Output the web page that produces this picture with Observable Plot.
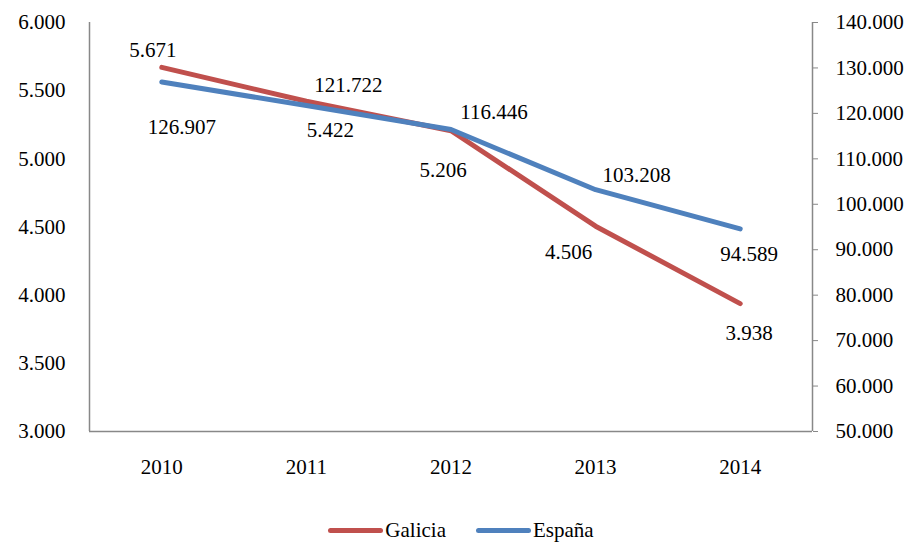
<!DOCTYPE html>
<html>
<head>
<meta charset="utf-8">
<script src="https://cdn.jsdelivr.net/npm/d3@7"></script>
<script src="https://cdn.jsdelivr.net/npm/@observablehq/plot@0.6"></script>
<style>
  body { margin: 0; background: #fff; font-family: 'Liberation Serif', Tinos, 'Times New Roman', Times, 'DejaVu Serif', serif; }
  #chart svg, #chart svg text { font-family: 'Liberation Serif', Tinos, 'Times New Roman', Times, 'DejaVu Serif', serif !important; }
  #chart { width: 916px; }
  .legend { display: flex; justify-content: center; align-items: center; gap: 30px; font-size: 21px; color: #000; padding-top: 18px; margin-left: 6px; }
  .legend span.item { display: inline-flex; align-items: center; }
  .legend span.sw { display: inline-block; width: 55px; height: 5px; border-radius: 3px; margin-right: 2px; }
</style>
</head>
<body>
<div id="chart"></div>
<script>
// ---- data ----
const years = [2010, 2011, 2012, 2013, 2014];
const galicia = [5671, 5422, 5206, 4506, 3938];
const espana = [126907, 121722, 116446, 103208, 94589];
const leftTicks = [3000, 3500, 4000, 4500, 5000, 5500, 6000];
const rightTicks = [50000, 60000, 70000, 80000, 90000, 100000, 110000, 120000, 130000, 140000];
const seriesNames = ["Galicia", "España"];
const colors = ["#C0504D", "#4F81BD"];

const fmt = d3.formatLocale({decimal: ",", thousands: ".", grouping: [3], currency: ["", "€"]}).format(",d");

// map right axis (España) onto left scale domain
const toLeft = d3.scaleLinear().domain([50000, 140000]).range([3000, 6000]);

const gData = years.map((y, i) => ({year: y, v: galicia[i]}));
const eData = years.map((y, i) => ({year: y, v: toLeft(espana[i]), raw: espana[i]}));

// label placement (pixel offsets)
const gOff = [[-9, -17], [24, 29], [-8, 40], [-27, 26], [9, 30]];
const eOff = [[20, 45], [42, -20], [43, -17], [41, -14], [9, 25]];

const font = "'Liberation Serif', Tinos, 'Times New Roman', Times, 'DejaVu Serif', serif";
const axisColor = "#888";

const labelMarks = [];
gData.forEach((d, i) => labelMarks.push(Plot.text([d], {x: "year", y: "v", text: d => fmt(d.v), dx: gOff[i][0], dy: gOff[i][1], fontSize: 21, fill: "#000", fontFamily: font})));
eData.forEach((d, i) => labelMarks.push(Plot.text([d], {x: "year", y: "v", text: d => fmt(d.raw), dx: eOff[i][0], dy: eOff[i][1], fontSize: 21, fill: "#000", fontFamily: font})));

const chart = Plot.plot({
  width: 916,
  height: 500,
  marginLeft: 89,
  marginRight: 104,
  marginTop: 22,
  marginBottom: 69,
  style: {fontFamily: font, fontSize: "21px", color: "#000", background: "#fff"},
  x: {domain: [2009.5, 2014.5]},
  y: {domain: [3000, 6000]},
  marks: [
    Plot.axisY({anchor: "left", ticks: leftTicks, tickSize: 0, tickPadding: 24, tickFormat: fmt, label: null, fontSize: 21, fontFamily: font}),
    Plot.axisY(rightTicks.map(toLeft), {anchor: "right", tickSize: 5, tickPadding: 18, stroke: axisColor, tickFormat: d => fmt(Math.round(toLeft.invert(d))), label: null, fontSize: 21, fontFamily: font}),
    Plot.axisX({ticks: years, tickSize: 0, tickPadding: 28, tickFormat: d => String(d), label: null, fontSize: 21, fontFamily: font}),
    Plot.ruleX([2009.5], {stroke: axisColor, strokeWidth: 1.5}),
    Plot.ruleX([2014.5], {stroke: axisColor, strokeWidth: 1.5}),
    Plot.ruleY([3000], {stroke: axisColor, strokeWidth: 1.5}),
    Plot.line(gData, {x: "year", y: "v", stroke: colors[0], strokeWidth: 5, strokeLinecap: "round", strokeLinejoin: "round"}),
    Plot.line(eData, {x: "year", y: "v", stroke: colors[1], strokeWidth: 5, strokeLinecap: "round", strokeLinejoin: "round"}),
    ...labelMarks
  ]
});
document.getElementById("chart").appendChild(chart);

const legend = document.createElement("div");
legend.className = "legend";
seriesNames.forEach((n, i) => {
  const item = document.createElement("span");
  item.className = "item";
  const sw = document.createElement("span");
  sw.className = "sw";
  sw.style.background = colors[i];
  item.appendChild(sw);
  item.appendChild(document.createTextNode(n));
  legend.appendChild(item);
});
document.getElementById("chart").appendChild(legend);
</script>
</body>
</html>
